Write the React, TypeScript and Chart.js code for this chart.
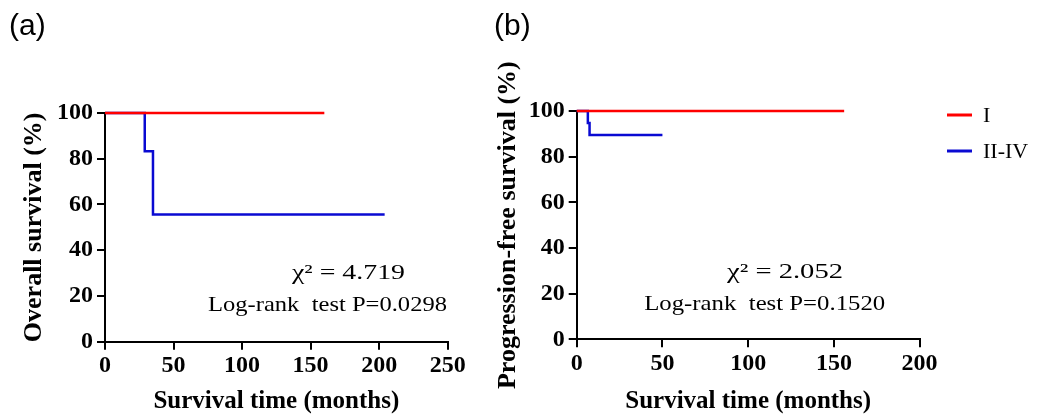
import React, { useEffect, useRef } from "react";
import { Chart, registerables } from "chart.js";

Chart.register(...registerables);

// ---- data ----
const groupLabels = ["I", "II-IV"];
const groupColors = ["#ff0000", "#0a0ad2"];

// Panel (a): overall survival (Kaplan-Meier steps)
const osTimeI = [0, 160];
const osSurvI = [100, 100];
const osTimeII = [0, 29, 35, 204];
const osSurvII = [100, 83.3, 55.6, 55.6];

// Panel (b): progression-free survival
const pfsTimeI = [0, 156];
const pfsSurvI = [100, 100];
const pfsTimeII = [0, 6.5, 7.5, 50];
const pfsSurvII = [100, 94.7, 89.5, 89.5];

const yMax = 100;
const yStep = 20;
const xMaxA = 250;
const xMaxB = 200;
const xStep = 50;

const yTitleA = "Overall survival (%)";
const yTitleB = "Progression-free survival (%)";
const xTitle = "Survival time (months)";

const statsA = ["χ² = 4.719", "Log-rank  test P=0.0298"];
const statsB = ["χ² = 2.052", "Log-rank  test P=0.1520"];

// ---- layout specs ----
type Spec = {
  left: number;
  width: number;
  letter: string;
  letterX: number;
  xMax: number;
  yTitle: string;
  yTitleSize: number;
  yTitlePad: number;
  areaLeft: number;
  areaTop: number;
  areaRight: number;
  areaBottom: number;
  timeI: number[];
  survI: number[];
  timeII: number[];
  survII: number[];
  stats: string[];
  statPos: { cx: number; base: number; w: number }[];
  legend?: { x0: number; x1: number; tx: number; y0: number; dy: number };
};

const H = 414;

const specA: Spec = {
  left: 0,
  width: 480,
  letter: "(a)",
  letterX: 9,
  xMax: xMaxA,
  yTitle: yTitleA,
  yTitleSize: 26,
  yTitlePad: 21,
  areaLeft: 105,
  areaTop: 113,
  areaRight: 447.7,
  areaBottom: 341.7,
  timeI: osTimeI,
  survI: osSurvI,
  timeII: osTimeII,
  survII: osSurvII,
  stats: statsA,
  statPos: [
    { cx: 348.5, base: 279, w: 113 },
    { cx: 327.5, base: 311, w: 239 },
  ],
};

const specB: Spec = {
  left: 480,
  width: 557,
  letter: "(b)",
  letterX: 14,
  xMax: xMaxB,
  yTitle: yTitleB,
  yTitleSize: 26,
  yTitlePad: 15,
  areaLeft: 96.7,
  areaTop: 111,
  areaRight: 439.6,
  areaBottom: 339.3,
  timeI: pfsTimeI,
  survI: pfsSurvI,
  timeII: pfsTimeII,
  survII: pfsSurvII,
  stats: statsB,
  statPos: [
    { cx: 305, base: 278, w: 116 },
    { cx: 284.7, base: 310, w: 241 },
  ],
  legend: { x0: 467, x1: 492, tx: 503, y0: 115, dy: 36 },
};

const SERIF = '"Liberation Serif", "Times New Roman", serif';

function makeOverlay(spec: Spec) {
  return {
    id: "overlay",
    afterDraw(chart: any) {
      const ctx: CanvasRenderingContext2D = chart.ctx;
      ctx.save();
      ctx.fillStyle = "#000";
      // panel letter
      ctx.font = '30px "Liberation Sans", Arial, sans-serif';
      ctx.textAlign = "left";
      ctx.textBaseline = "alphabetic";
      ctx.fillText(spec.letter, spec.letterX, 35);
      // statistics
      spec.stats.forEach((text, i) => {
        const p = spec.statPos[i];
        ctx.font = "22px " + SERIF;
        const w = ctx.measureText(text).width;
        ctx.save();
        ctx.translate(p.cx, p.base);
        ctx.scale(p.w / w, 1);
        ctx.textAlign = "center";
        ctx.textBaseline = "alphabetic";
        ctx.fillText(text, 0, 0);
        ctx.restore();
      });
      // legend
      if (spec.legend) {
        const L = spec.legend;
        chart.data.datasets.forEach((ds: any, i: number) => {
          const y = L.y0 + i * L.dy;
          ctx.strokeStyle = ds.borderColor;
          ctx.lineWidth = 3;
          ctx.beginPath();
          ctx.moveTo(L.x0, y);
          ctx.lineTo(L.x1, y);
          ctx.stroke();
          ctx.font = "22px " + SERIF;
          ctx.textAlign = "left";
          ctx.textBaseline = "middle";
          ctx.fillStyle = "#000";
          ctx.fillText(ds.label, L.tx, y + 1);
        });
      }
      ctx.restore();
    },
  };
}

function buildConfig(spec: Spec): any {
  const tickFont = { family: SERIF, size: 24, weight: "bold" as const };
  const xTitleFont = { family: SERIF, size: 25, weight: "bold" as const, lineHeight: 1 };
  const yTitleFont = { family: SERIF, size: spec.yTitleSize, weight: "bold" as const, lineHeight: 1 };
  const lineDs = (label: string, color: string, xs: number[], ys: number[]) => ({
    label,
    data: xs.map((t, i) => ({ x: t, y: ys[i] })),
    borderColor: color,
    backgroundColor: color,
    borderWidth: 2.5,
    pointRadius: 0,
    stepped: true,
    fill: false,
    clip: false,
  });
  return {
    type: "line",
    data: {
      datasets: [
        lineDs(groupLabels[0], groupColors[0], spec.timeI, spec.survI),
        lineDs(groupLabels[1], groupColors[1], spec.timeII, spec.survII),
      ],
    },
    options: {
      responsive: false,
      animation: false,
      devicePixelRatio: 1,
      events: [],
      layout: {
        padding: {
          top: spec.areaTop,
          right: spec.width - spec.areaRight,
          left: 0,
          bottom: 0,
        },
      },
      plugins: {
        legend: { display: false },
        tooltip: { enabled: false },
        title: { display: false },
      },
      scales: {
        x: {
          type: "linear",
          min: 0,
          max: spec.xMax,
          ticks: { stepSize: xStep, color: "#000", font: tickFont, padding: 2 },
          grid: {
            drawOnChartArea: false,
            color: "#000",
            lineWidth: 2,
            tickLength: 8,
            tickWidth: 2,
          },
          border: { color: "#000", width: 2 },
          title: {
            display: true,
            text: xTitle,
            color: "#000",
            font: xTitleFont,
            padding: { top: 0, bottom: 0 },
          },
          afterFit: (s: any) => {
            s.height = H - spec.areaBottom;
          },
        },
        y: {
          type: "linear",
          min: 0,
          max: yMax,
          ticks: { stepSize: yStep, color: "#000", font: tickFont, padding: 4 },
          grid: {
            drawOnChartArea: false,
            color: "#000",
            lineWidth: 2,
            tickLength: 8,
            tickWidth: 2,
          },
          border: { color: "#000", width: 2 },
          title: {
            display: true,
            text: spec.yTitle,
            color: "#000",
            font: yTitleFont,
            padding: { top: spec.yTitlePad, bottom: 0 },
          },
          afterFit: (s: any) => {
            s.width = spec.areaLeft;
          },
        },
      },
    },
    plugins: [makeOverlay(spec)],
  };
}

function Panel({ spec }: { spec: Spec }) {
  const ref = useRef<HTMLCanvasElement>(null);
  useEffect(() => {
    if (!ref.current) return;
    const chart = new Chart(ref.current, buildConfig(spec));
    return () => chart.destroy();
  }, [spec]);
  return (
    <canvas
      ref={ref}
      width={spec.width}
      height={H}
      style={{ position: "absolute", left: spec.left, top: 0 }}
    />
  );
}

export default function App() {
  return (
    <div
      style={{
        position: "fixed",
        left: 0,
        top: 0,
        width: 1037,
        height: H,
        background: "#fff",
        overflow: "hidden",
      }}
    >
      <Panel spec={specA} />
      <Panel spec={specB} />
    </div>
  );
}
